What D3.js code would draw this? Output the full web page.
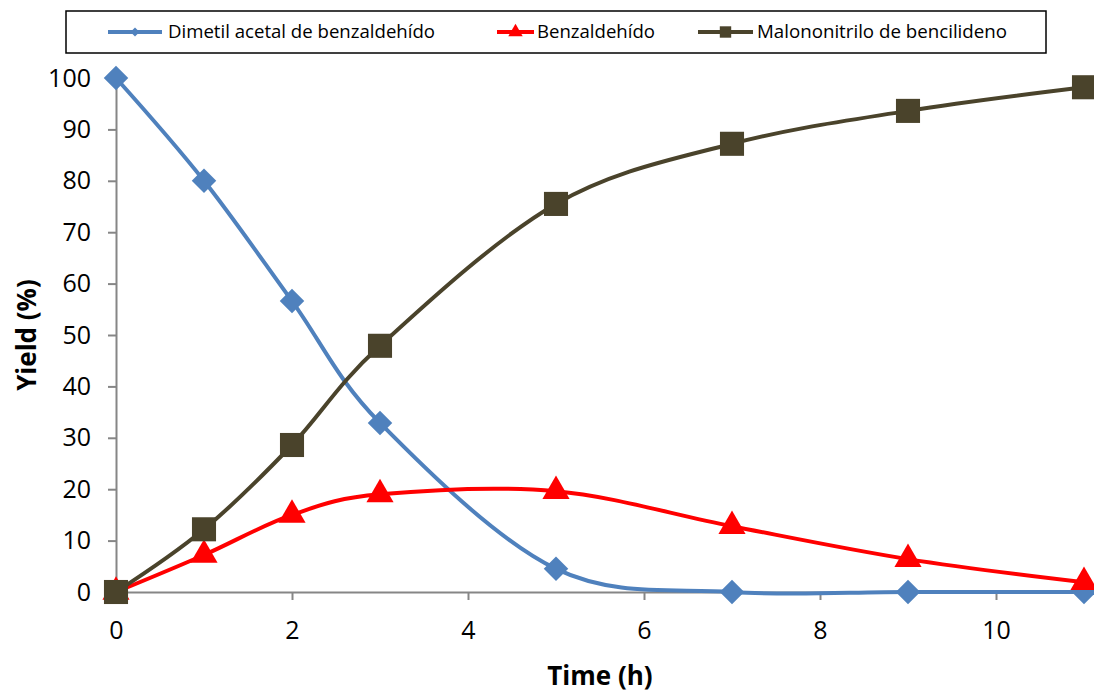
<!DOCTYPE html>
<html>
<head>
<meta charset="utf-8">
<script src="https://cdn.jsdelivr.net/npm/d3@7"></script>
<style>
  body { margin: 0; background: #fff; }
  text { font-family: "Open Sans", "Liberation Sans", sans-serif; }
</style>
</head>
<body>
<svg id="drawing_region"></svg>
<script>
// data
const times = [0, 1, 2, 3, 5, 7, 9, 11];
const acetal = [100, 80, 56.6, 32.9, 4.5, 0, 0, 0];
const benzaldehido = [0, 7.2, 15, 19, 19.6, 12.8, 6.4, 1.9];
const malononitrilo = [0, 12.2, 28.6, 47.9, 75.5, 87.2, 93.6, 98.2];
const seriesNames = ["Dimetil acetal de benzaldehído", "Benzaldehído", "Malononitrilo de bencilideno"];
const seriesColors = ["#4f81bd", "#ff0000", "#4a432b"];
const xTicks = [0, 2, 4, 6, 8, 10];
const yTicks = [0, 10, 20, 30, 40, 50, 60, 70, 80, 90, 100];

const config = {
    width: 1094,
    height: 693,
    margin: {top: 78, right: 10, bottom: 101, left: 116}
};

const svg = d3.select('#drawing_region')
    .attr('width', config.width)
    .attr('height', config.height);

const inner_width = 968;
const inner_height = config.height - config.margin.top - config.margin.bottom;

const chart = svg.append('g')
    .attr('transform', `translate(${config.margin.left}, ${config.margin.top})`);

const xscale = d3.scaleLinear().domain([0, 11]).range([0, inner_width]);
const yscale = d3.scaleLinear().domain([0, 100]).range([inner_height, 0]);

// axes
const xaxis = d3.axisBottom(xscale).tickValues(xTicks).tickSize(8).tickSizeOuter(0).tickPadding(21);
const yaxis = d3.axisLeft(yscale).tickValues(yTicks).tickSize(8).tickSizeOuter(0).tickPadding(17);

const xg = chart.append('g')
    .attr('transform', `translate(0, ${inner_height})`)
    .call(xaxis);
const yg = chart.append('g').call(yaxis);

[xg, yg].forEach(g => {
    g.select('.domain').attr('stroke', '#868686').attr('stroke-width', 2);
    g.selectAll('.tick line').attr('stroke', '#868686').attr('stroke-width', 2);
    g.selectAll('.tick text')
        .attr('fill', '#000')
        .style('font-size', '25px')
        .style('font-family', '"Open Sans", sans-serif');
});

// axis titles
svg.append('text')
    .attr('x', config.margin.left + xscale(5.5))
    .attr('y', 685)
    .attr('text-anchor', 'middle')
    .style('font-size', '26px')
    .style('font-weight', 'bold')
    .text('Time (h)');

svg.append('text')
    .attr('transform', `translate(36, ${config.margin.top + yscale(50)}) rotate(-90)`)
    .attr('text-anchor', 'middle')
    .style('font-size', '26px')
    .style('font-weight', 'bold')
    .text('Yield (%)');

// lines and markers
const allSeries = [acetal, benzaldehido, malononitrilo];
const shapes = [d3.symbolSquare, d3.symbolTriangle, d3.symbolSquare];
const sizes = [300, 320, 580];
const rotations = [45, 0, 0];

const line = d3.line()
    .x(d => xscale(d[0]))
    .y(d => yscale(d[1]))
    .curve(d3.curveCardinal);

allSeries.forEach((vals, i) => {
    const pts = times.map((t, j) => [t, vals[j]]);
    chart.append('path')
        .datum(pts)
        .attr('fill', 'none')
        .attr('stroke', seriesColors[i])
        .attr('stroke-width', 4)
        .attr('d', line);
});

allSeries.forEach((vals, i) => {
    const pts = times.map((t, j) => [t, vals[j]]);
    chart.selectAll(null).data(pts).enter()
        .append('path')
        .attr('transform', d => `translate(${xscale(d[0])}, ${yscale(d[1])}) rotate(${rotations[i]})`)
        .attr('d', d3.symbol().type(shapes[i]).size(sizes[i]))
        .attr('fill', seriesColors[i]);
});

// legend
svg.append('rect')
    .attr('x', 66).attr('y', 11)
    .attr('width', 980).attr('height', 42)
    .attr('fill', '#fff')
    .attr('stroke', '#000')
    .attr('stroke-width', 1.5);

const legendItems = [
    {lx: 108, lw: 54, tx: 168, tw: 267},
    {lx: 497, lw: 37, tx: 537, tw: 118},
    {lx: 698, lw: 55, tx: 757, tw: 250}
];
const legendSizes = [40, 90, 130];

legendItems.forEach((it, i) => {
    const g = svg.append('g');
    g.append('line')
        .attr('x1', it.lx).attr('x2', it.lx + it.lw)
        .attr('y1', 32).attr('y2', 32)
        .attr('stroke', seriesColors[i])
        .attr('stroke-width', 4);
    g.append('path')
        .attr('transform', `translate(${it.lx + it.lw / 2}, 32) rotate(${rotations[i]})`)
        .attr('d', d3.symbol().type(shapes[i]).size(legendSizes[i]))
        .attr('fill', seriesColors[i]);
    g.append('text')
        .attr('x', it.tx).attr('y', 38)
        .attr('textLength', it.tw)
        .attr('lengthAdjust', 'spacingAndGlyphs')
        .style('font-size', '18px')
        .text(seriesNames[i]);
});
</script>
</body>
</html>
